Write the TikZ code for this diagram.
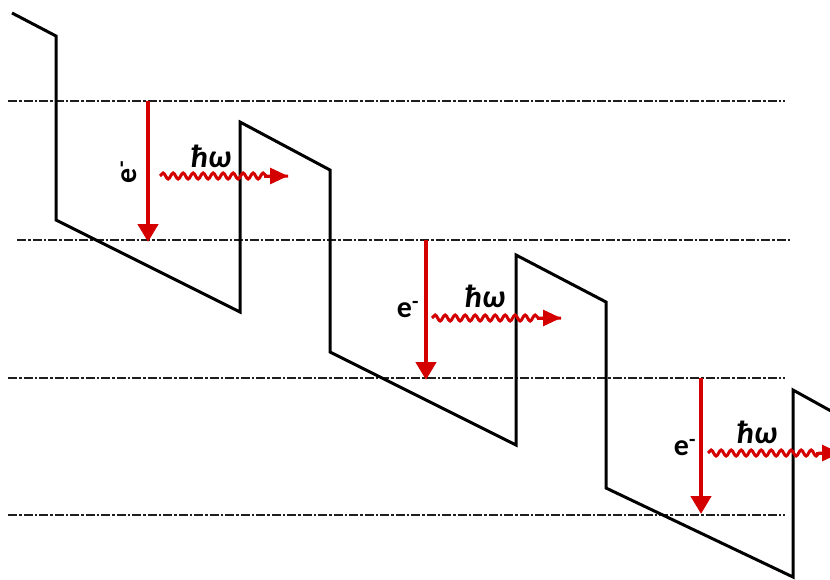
\documentclass[tikz,border=0pt]{standalone}
\usepackage{fontspec}
\setmainfont{Carlito}
\usetikzlibrary{decorations.pathmorphing,arrows.meta,calc}
\definecolor{ered}{RGB}{212,0,0}
\definecolor{dline}{RGB}{30,30,30}
\begin{document}
\begin{tikzpicture}[x=1pt,y=-1pt,
  level/.style={dline,line width=2.6pt,dash pattern=on 9pt off 2pt on 2.5pt off 2pt},
  band/.style={black,line width=3pt,line join=miter},
  drop/.style={ered,line width=4.4pt,-{Triangle[length=18pt,width=20pt]}},
  photon/.style={ered,line width=3pt,decorate,
    decoration={snake,amplitude=3pt,segment length=10pt,post length=20pt}},
  phead/.style={ered,line width=3pt,-{Triangle[length=18pt,width=16pt]}},
  elab/.style={font=\bfseries\fontsize{30}{30}\selectfont,inner sep=0pt},
  hlab/.style={font=\bfseries\itshape\fontsize{32}{32}\selectfont,inner sep=0pt}]
\clip (0,0) rectangle (830,579);
\fill[white] (0,0) rectangle (830,579);
% energy levels
\draw[level] (8,101) -- (785,101);
\draw[level] (17,240) -- (790,240);
\draw[level] (8,378) -- (785,378);
\draw[level] (8,515) -- (785,515);
% band profile
\draw[band] (12,13) -- (56,36) -- (56,220) -- (240,312) -- (240,122) -- (330,170)
  -- (330,352) -- (516,445) -- (516,255) -- (606,302) -- (606,488) -- (793,577)
  -- (793,390) -- (840,416);
% electron transitions
\coordinate (a1) at (148,101); \coordinate (b1) at (148,242);
\coordinate (a2) at (426,240); \coordinate (b2) at (426,380);
\coordinate (a3) at (701,378); \coordinate (b3) at (701,514);
\draw[drop] (a1) -- (b1);
\draw[drop] (a2) -- (b2);
\draw[drop] (a3) -- (b3);
\node[elab,rotate=90] (e1) at (129,172) {e\textsuperscript{-}};
\node[elab] (e2) at (408,310) {e\textsuperscript{-}};
\node[elab] (e3) at (685,448) {e\textsuperscript{-}};
% photons
\coordinate (p1) at (160,176); \coordinate (q1) at (288,176);
\coordinate (p2) at (432,318); \coordinate (q2) at (561,318);
\coordinate (p3) at (708,453); \coordinate (q3) at (840,453);
\foreach \p/\q in {p1/q1,p2/q2,p3/q3}{
  \draw[photon] (\p) -- (\q);
  \draw[phead] ($(\q)+(-24,0)$) -- (\q);
}
\node[hlab] (h1) at (211,156) {ħω};
\node[hlab] (h2) at (485,296) {ħω};
\node[hlab] (h3) at (757,432) {ħω};
\end{tikzpicture}
\end{document}
